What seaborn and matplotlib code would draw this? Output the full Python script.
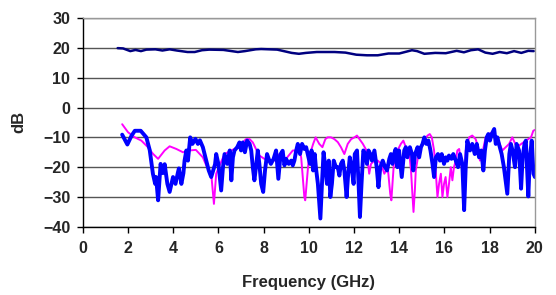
import numpy as np
import pandas as pd
import matplotlib
matplotlib.use("Agg")
import matplotlib.pyplot as plt
import seaborn as sns

# upper trace (~20 dB)
top_f = [1.54, 1.78, 2.10, 2.33, 2.57, 2.81, 3.21, 3.52, 3.84, 4.16, 4.63, 4.95,
         5.27, 5.59, 6.22, 6.86, 7.17, 7.65, 7.89, 8.60, 9.24, 9.56, 9.87, 10.35,
         11.14, 11.62, 12.10, 12.57, 13.05, 13.52, 14.00, 14.56, 14.79, 15.11,
         15.59, 16.06, 16.54, 16.86, 17.17, 17.49, 17.81, 18.13, 18.44, 18.76,
         19.08, 19.40, 19.71, 19.95]
top_db = [19.9, 19.8, 18.9, 19.3, 18.9, 19.4, 19.5, 19.1, 19.5, 19.1, 18.6, 18.6,
          19.2, 19.4, 19.3, 18.6, 18.9, 19.5, 19.6, 19.4, 18.3, 18.0, 18.3, 18.6,
          18.6, 18.4, 17.7, 17.5, 17.5, 18.1, 18.1, 19.2, 18.9, 18.0,
          18.3, 18.2, 19.0, 18.5, 19.2, 19.5, 18.4, 18.0, 18.6, 18.2,
          18.9, 18.3, 19.0, 18.9]

# magenta trace
mag_f = [1.74, 2.00, 2.30, 2.59, 2.88, 3.10, 3.33, 3.62, 3.84, 4.14, 4.43, 4.72,
         5.00, 5.31, 5.46, 5.68, 5.80, 5.90, 6.05, 6.27, 6.57, 6.86, 7.08, 7.22,
         7.38, 7.52, 7.66, 7.81, 8.03, 8.25, 8.47, 8.70, 8.99, 9.29, 9.58, 9.66,
         9.73, 9.80, 9.84, 9.90, 10.00, 10.12, 10.19, 10.30, 10.46, 10.60, 10.73,
         10.83, 10.98, 11.13, 11.28, 11.42, 11.57, 11.72, 11.87, 12.02, 12.13,
         12.24, 12.39, 12.55, 12.67, 12.75, 12.90, 13.05, 13.20, 13.34, 13.49,
         13.60, 13.65, 13.72, 13.77, 13.92, 14.07, 14.18, 14.29, 14.43, 14.52,
         14.58, 14.63, 14.69, 14.73, 14.85, 14.96, 15.10, 15.25, 15.35, 15.44,
         15.54, 15.62, 15.69, 15.76, 15.84, 15.91, 15.98, 16.05, 16.13, 16.20,
         16.28, 16.35, 16.42, 16.50, 16.57, 16.65, 16.72, 16.79, 16.87, 16.94,
         17.09, 17.23, 17.38, 17.49, 17.57, 17.67, 17.82, 17.97, 18.12, 18.27,
         18.42, 18.56, 18.86, 19.00, 19.20, 19.40, 19.60, 19.83, 19.93, 20.00]
mag_db = [-5.6, -8.3, -10.0, -11.1, -13.3, -15.5, -17.2, -14.4, -13.0, -13.9, -15.0, -14.4,
          -14.2, -16.7, -19.4, -22.2, -32.3, -22.2, -19.4, -15.6, -14.4, -13.3, -11.7, -10.6,
          -10.6, -11.7, -13.9, -16.1, -17.2, -17.8, -17.8, -15.6, -17.2, -14.4, -14.4, -16.7,
          -23.3, -30.0, -31.1, -25.6, -16.7, -13.9, -12.2, -10.0, -12.2, -13.3, -10.6,
          -10.0, -10.0, -10.6, -11.6, -13.3, -15.6, -12.2, -10.6, -10.0, -9.4,
          -10.6, -12.2, -14.4, -22.2, -18.9, -17.8, -17.8, -18.9, -22.2, -20.0,
          -28.9, -31.1, -23.3, -17.8, -14.4, -12.2, -11.1, -13.3, -14.4, -21.1,
          -28.9, -35.0, -27.8, -21.1, -15.6, -13.3, -11.1, -9.4, -8.9, -10.0,
          -14.4, -22.2, -30.0, -25.6, -22.2, -30.0, -25.6, -23.3, -30.0, -25.6,
          -20.0, -24.4, -20.0, -17.8, -14.4, -13.9, -17.8, -21.1, -25.6, -14.4,
          -10.0, -9.4, -10.6, -13.3, -17.8, -15.6, -10.0, -8.9, -8.3, -10.0,
          -11.7, -14.4, -12.2, -10.0, -13.3, -12.2, -11.1, -10.0, -7.8, -7.5]

# blue trace
blu_f = [1.74, 1.97, 2.15, 2.30, 2.56, 2.81, 2.96, 3.10, 3.20, 3.24, 3.33, 3.44,
         3.54, 3.62, 3.74, 3.84, 3.99, 4.10, 4.20, 4.25, 4.36, 4.45, 4.50, 4.58,
         4.65, 4.75, 4.85, 4.98, 5.09, 5.18, 5.31, 5.46, 5.57, 5.68, 5.85, 5.90,
         6.00, 6.12, 6.20, 6.27, 6.35, 6.39, 6.50, 6.57, 6.64, 6.71, 6.83, 6.93,
         7.00, 7.08, 7.17, 7.27, 7.38, 7.45, 7.52, 7.59, 7.66, 7.74, 7.81, 7.89,
         7.98, 8.06, 8.15, 8.25, 8.32, 8.44, 8.55, 8.65, 8.75, 8.84, 8.92, 8.99,
         9.11, 9.22, 9.29, 9.36, 9.44, 9.51, 9.61, 9.70, 9.80, 9.88, 9.95, 10.05,
         10.12, 10.19, 10.26, 10.31, 10.40, 10.46, 10.51, 10.58, 10.65, 10.73,
         10.80, 10.88, 10.95, 11.02, 11.10, 11.20, 11.28, 11.35, 11.42, 11.50,
         11.57, 11.67, 11.74, 11.81, 11.89, 11.98, 12.03, 12.13, 12.20, 12.26,
         12.33, 12.41, 12.50, 12.57, 12.64, 12.72, 12.79, 12.90, 13.00, 13.08,
         13.16, 13.27, 13.37, 13.46, 13.56, 13.63, 13.70, 13.77, 13.84, 13.92,
         13.99, 14.11, 14.22, 14.29, 14.36, 14.47, 14.56, 14.62, 14.70, 14.81,
         14.88, 14.96, 15.03, 15.11, 15.20, 15.29, 15.38, 15.47, 15.54, 15.62,
         15.71, 15.80, 15.88, 15.98, 16.06, 16.13, 16.20, 16.31, 16.39, 16.50,
         16.60, 16.69, 16.79, 16.87, 16.94, 17.01, 17.13, 17.23, 17.34, 17.43,
         17.53, 17.63, 17.72, 17.79, 17.87, 17.94, 18.01, 18.09, 18.20, 18.27,
         18.34, 18.41, 18.53, 18.63, 18.78, 18.87, 18.94, 19.01, 19.12, 19.19,
         19.30, 19.39, 19.46, 19.54, 19.60, 19.71, 19.78, 19.86, 19.94, 20.00]
blu_db = [-9.1, -12.4, -9.5, -7.8, -7.8, -10.0, -14.3, -22.2, -25.6, -23.3, -31.1, -18.9,
          -22.0, -19.0, -25.6, -28.3, -23.3, -25.6, -22.0, -20.4, -25.6, -22.0, -17.8, -14.4,
          -17.8, -10.0, -12.2, -10.5, -12.2, -11.0, -13.3, -17.8, -21.1, -23.3, -19.0, -15.6,
          -19.0, -27.8, -20.0, -15.6, -17.8, -18.9, -14.4, -24.4, -16.7, -14.4, -13.3, -11.7,
          -14.4, -11.7, -15.0, -11.1, -12.2, -14.4, -20.0, -24.4, -20.0, -14.4, -18.9, -25.6,
          -28.3, -21.1, -15.6, -17.8, -18.9, -17.2, -14.4, -23.9, -15.6, -14.5, -19.4, -17.2,
          -18.9, -17.8, -19.4, -17.8, -14.4, -12.2, -15.6, -12.2, -13.9, -13.3, -15.6, -18.9,
          -14.4, -21.1, -15.6, -20.0, -25.6, -32.2, -37.2, -25.6, -15.0, -20.0,
          -25.6, -17.8, -30.0, -25.6, -17.8, -20.0, -20.0, -22.8, -18.9, -17.8,
          -21.1, -30.0, -22.2, -16.7, -20.0, -25.6, -15.6, -14.4, -25.6, -36.7,
          -25.6, -14.4, -15.6, -18.9, -14.4, -15.6, -17.8, -14.4, -20.0, -26.7,
          -20.0, -17.8, -20.0, -21.1, -17.2, -15.6, -18.9, -15.6, -13.9, -20.0,
          -14.4, -23.3, -14.4, -13.3, -16.7, -13.3, -15.6, -21.1, -15.6, -13.3,
          -16.7, -13.3, -12.2, -10.0, -12.2, -11.1, -14.4, -18.9, -23.3, -16.7,
          -15.6, -17.8, -15.6, -18.9, -16.7, -17.8, -16.1, -17.2, -15.6, -17.8,
          -20.0, -15.6, -18.9, -34.4, -20.0, -11.1, -14.4, -12.2, -15.6, -12.2,
          -16.7, -14.4, -21.1, -14.4, -10.0, -8.9, -11.1, -8.9, -7.2, -12.2,
          -10.0, -12.2, -15.6, -20.0, -28.9, -15.6, -12.2, -14.4, -20.0, -12.2,
          -14.4, -27.2, -16.7, -12.2, -11.1, -29.8, -16.7, -11.1, -22.2, -23.3]

sns.set_style("white")
plt.rcParams['font.family'] = ['Liberation Sans', 'DejaVu Sans']

fig = plt.figure(figsize=(5.56, 2.95), dpi=100)
ax = fig.add_axes([0.149, 0.231, 0.813, 0.708])

ax.set_ylim(-40, 30)
ax.set_xlim(0, 20)
ax.set_yticks(np.arange(-40, 31, 10))
ax.set_xticks(np.arange(0, 21, 2))
ax.grid(axis='y', color='#555555', linewidth=1.0)
ax.set_axisbelow(True)

sns.lineplot(x=mag_f, y=mag_db, ax=ax, color='#FF00FF', linewidth=1.4, sort=False)
sns.lineplot(x=blu_f, y=blu_db, ax=ax, color='#0000FF', linewidth=2.8, sort=False)
sns.lineplot(x=top_f, y=top_db, ax=ax, color='#000080', linewidth=1.8, sort=False)

for s in ['top', 'right']:
    ax.spines[s].set_color('#999999')
    ax.spines[s].set_linewidth(1.0)
for s in ['left', 'bottom']:
    ax.spines[s].set_color('black')
    ax.spines[s].set_linewidth(1.0)

ax.tick_params(axis='both', which='major', direction='out', length=4, width=1,
               color='black', labelsize=11.5, bottom=True, left=True)
ax.tick_params(axis='x', pad=6)
ax.tick_params(axis='y', pad=5)
for lab in ax.get_xticklabels() + ax.get_yticklabels():
    lab.set_fontweight('bold')

ax.set_xlabel('Frequency (GHz)', fontsize=12, fontweight='bold', labelpad=14)
ax.set_ylabel('dB', fontsize=12, fontweight='bold', labelpad=12)

fig.savefig('out.png', dpi=100)
